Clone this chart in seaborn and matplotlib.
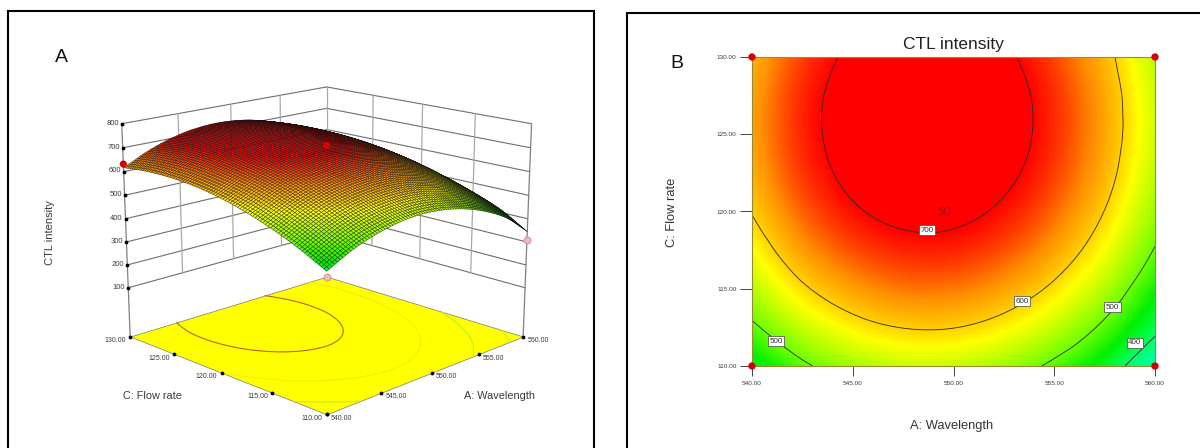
import numpy as np
import pandas as pd
import seaborn as sns
import matplotlib
matplotlib.use("Agg")
import matplotlib.pyplot as plt
import matplotlib.tri as mtri
from matplotlib.colors import LinearSegmentedColormap
from matplotlib.patches import Rectangle
from mpl_toolkits.mplot3d import proj3d
from mpl_toolkits.mplot3d.art3d import Poly3DCollection

# ---- data ----
wavelength = [540, 542.5, 545, 547.5, 550, 552.5, 555, 557.5, 560]
flow_rate = [110, 112.5, 115, 117.5, 120, 122.5, 125, 127.5, 130]
intensity = [
    [435, 491, 527, 546, 545, 526, 489, 433, 345],
    [491, 546, 583, 601, 601, 582, 545, 489, 414],
    [537, 593, 629, 648, 647, 628, 591, 535, 460],
    [574, 630, 666, 684, 684, 665, 628, 572, 497],
    [602, 657, 694, 712, 711, 692, 655, 599, 524],
    [620, 675, 712, 730, 729, 710, 673, 617, 542],
    [628, 683, 720, 738, 738, 719, 681, 625, 551],
    [627, 682, 719, 737, 737, 718, 680, 624, 550],
    [617, 672, 709, 727, 726, 708, 670, 614, 539],
]
a_ticks = [540, 545, 550, 555, 560]
c_ticks = [110, 115, 120, 125, 130]
z_ticks = [100, 200, 300, 400, 500, 600, 700, 800]
floor_z = -117
contour_levels = [400, 500, 600, 700]
floor_contour_colors = ["#c8f020", "#b8f030", "#eef000", "#b5651d"]
design_a = [540, 560, 540, 560]
design_c = [130, 130, 110, 110]
design_z = [632, 525, 415, 310]
design_col = ["#d40000", "#e00000", "#f4b8b8", "#f4b8b8"]
label_a = [541.2, 553.4, 557.9, 559.0, 548.7]
label_c = [111.6, 114.2, 113.8, 111.5, 118.8]
label_txt = ["500", "600", "500", "400", "700"]

W, H = 1200, 448
TXT = "#3a3a3a"
sns.set_theme(style="white")
plt.rcParams["font.family"] = ["Liberation Sans", "DejaVu Sans"]

# resample the read grid for display
A0, C0 = np.meshgrid(wavelength, flow_rate)
Z0 = np.array(intensity, dtype=float)
interp = mtri.CubicTriInterpolator(mtri.Triangulation(A0.ravel(), C0.ravel()), Z0.ravel(), kind="geom")


def fine(n):
    a = np.linspace(wavelength[0], wavelength[-1], n)
    c = np.linspace(flow_rate[0], flow_rate[-1], n)
    AA, CC = np.meshgrid(a, c)
    return a, c, AA, CC, np.ma.filled(interp(AA, CC), np.nan)


vmin, vmax = 340, 740
stops = [(340, "#00ffc0"), (410, "#00ff50"), (450, "#00f000"), (500, "#70ff00"), (546, "#c8ff00"),
         (575, "#ffff00"), (600, "#ffd000"), (638, "#ff9000"), (671, "#ff4000"), (700, "#ff0000"), (740, "#ff0000")]
cmap = LinearSegmentedColormap.from_list("rsm", [((v - vmin) / (vmax - vmin), c) for v, c in stops])
norm = plt.Normalize(vmin, vmax)

fig = plt.figure(figsize=(W / 100, H / 100), dpi=100)


def px(ax_l, ax_t, ax_r, ax_b):
    return [ax_l / W, 1 - ax_b / H, (ax_r - ax_l) / W, (ax_b - ax_t) / H]


# ---- panel A ----
side = 640
cx, cy = 318, 241
ax3 = fig.add_axes(px(cx - side / 2, cy - side / 2, cx + side / 2, cy + side / 2), projection="3d")
ax3.computed_zorder = False
ax3.set_axis_off()
ax3.patch.set_alpha(0)
ax3.set_proj_type("persp", focal_length=0.42)
ax3.view_init(elev=16, azim=-135)
ax3.set_xlim(540, 560)
ax3.set_ylim(110, 130)
ax3.set_zlim(floor_z, 800)
ax3.set_box_aspect((1, 1, 0.78), zoom=0.695)

a0, a1, c0, c1 = a_ticks[0], a_ticks[-1], c_ticks[0], c_ticks[-1]
floor = Poly3DCollection([[(a0, c0, floor_z), (a1, c0, floor_z), (a1, c1, floor_z), (a0, c1, floor_z)]],
                         facecolor="#ffff00", edgecolor="#777777", lw=0.5, zorder=1)
ax3.add_collection3d(floor)

wall = dict(color="#6e6e6e", lw=0.8, zorder=0)
for z in z_ticks:
    ax3.plot([a0, a1], [c1, c1], [z, z], **wall)
    ax3.plot([a1, a1], [c0, c1], [z, z], **wall)
for a in a_ticks[1:-1]:
    ax3.plot([a, a], [c1, c1], [z_ticks[0], z_ticks[-1]], color="#a8a8a8", lw=0.9, zorder=0)
for c in c_ticks[1:-1]:
    ax3.plot([a1, a1], [c, c], [z_ticks[0], z_ticks[-1]], color="#a8a8a8", lw=0.9, zorder=0)
ax3.plot([a1, a1], [c1, c1], [z_ticks[0], z_ticks[-1]], color="#a8a8a8", lw=0.9, zorder=0)
ax3.plot([a0, a0], [c1, c1], [floor_z, z_ticks[-1]], color="#808080", lw=0.9, zorder=0)
ax3.plot([a1, a1], [c0, c0], [floor_z, z_ticks[-1]], color="#808080", lw=0.9, zorder=0)

# floor contours
a, c, AA, CC, ZZ = fine(85)
ax3.contour(AA, CC, ZZ, levels=contour_levels, zdir="z", offset=floor_z,
            colors=floor_contour_colors, linewidths=0.8, zorder=2)

# axis ticks
ax3.scatter([a0] * len(z_ticks), [c1] * len(z_ticks), z_ticks, s=3, c="black", depthshade=False, zorder=3)
ax3.scatter(a_ticks, [c0] * 5, [floor_z] * 5, s=3, c="black", depthshade=False, zorder=3)
ax3.scatter([a0] * 5, c_ticks, [floor_z] * 5, s=3, c="black", depthshade=False, zorder=3)


def label3d(x, y, z, s, off, ha, size):
    xp, yp, _ = proj3d.proj_transform(x, y, z, ax3.get_proj())
    ax3.annotate(s, xy=(xp, yp), xycoords="data", xytext=off, textcoords="offset points",
                 fontsize=size, color=TXT, ha=ha, va="center", zorder=6)


for z in z_ticks:
    label3d(a0, c1, z, str(z), (-2, 0.5), "right", 5.5)
for t in a_ticks:
    label3d(t, c0, floor_z, f"{t:.2f}", (3, -3), "left", 5)
for t in c_ticks:
    label3d(a0, t, floor_z, f"{t:.2f}", (-3, -3), "right", 5)

# pink markers lie under the surface
for i in (2, 3):
    ax3.scatter(design_a[i], design_c[i], design_z[i], s=26, c=design_col[i], edgecolors="#c08080",
                linewidths=0.5, depthshade=False, zorder=3)

# surface
ax3.plot_surface(AA, CC, ZZ, facecolors=cmap(norm(ZZ)), rstride=1, cstride=1, shade=False,
                 edgecolor="#151010", linewidth=0.26, antialiased=True, zorder=4)

for i in (0, 1):
    ax3.scatter(design_a[i], design_c[i], design_z[i], s=26, c=design_col[i], edgecolors="none",
                depthshade=False, zorder=5)

# ---- panel B ----
axb = fig.add_axes(px(752, 57, 1155, 366))
n = 200
a, c, AA, CC, ZZ = fine(n)
df = pd.DataFrame(ZZ[::-1], index=c[::-1], columns=a)
sns.heatmap(df, ax=axb, cmap=cmap, norm=norm, cbar=False, xticklabels=False, yticklabels=False, rasterized=True)


def a2x(v):
    return (np.asarray(v, dtype=float) - wavelength[0]) / (wavelength[-1] - wavelength[0]) * n


def c2y(v):
    return (flow_rate[-1] - np.asarray(v, dtype=float)) / (flow_rate[-1] - flow_rate[0]) * n


axb.contour(a2x(AA), c2y(CC), ZZ, levels=contour_levels, colors="#2a2a2a", linewidths=0.6)
for s in axb.spines.values():
    s.set_visible(True)
    s.set_color("#9a8a30")
    s.set_linewidth(0.8)

axb.set_xticks(a2x(a_ticks))
axb.set_xticklabels([f"{t:.2f}" for t in a_ticks], rotation=0, fontsize=4.6, color=TXT)
axb.set_yticks(c2y(c_ticks))
axb.set_yticklabels([f"{t:.2f}" for t in c_ticks], rotation=0, fontsize=4.6, color=TXT)
axb.tick_params(axis="x", length=7, width=0.7, color="#444444", pad=4, bottom=True)
axb.tick_params(axis="y", length=9, width=0.7, color="#444444", pad=2, left=True)
axb.set_xlabel("")
axb.set_ylabel("")

for la, lc, lt in zip(label_a, label_c, label_txt):
    axb.text(a2x(la), c2y(lc), lt, fontsize=5.8, color="#333333", ha="center", va="center",
             bbox=dict(boxstyle="square,pad=0.2", fc="white", ec="#444444", lw=0.5))
axb.text(a2x(549.6), c2y(120), "5O", fontsize=7, color="#a01010", ha="center", va="center")
axb.scatter(a2x(design_a), c2y(design_c), s=28, c="#d40000", edgecolors="none", clip_on=False, zorder=6)


# ---- figure-level text and frames ----
def ftext(x, y, s, **kw):
    fig.text(x / W, 1 - y / H, s, ha="center", va="center", **kw)


for x0, y0, x1 in [(8, 11, 594), (627, 13, 1215)]:
    fig.add_artist(Rectangle((x0 / W, 1 - (H + 10) / H), (x1 - x0) / W, (H + 10 - y0) / H,
                             transform=fig.transFigure, fill=False, ec="black", lw=1.5))

ftext(61, 58, "A", fontsize=14, color="#111111")
ftext(677, 64, "B", fontsize=14, color="#111111")
ftext(953, 44, "CTL intensity", fontsize=12.5, color="#222222")
ftext(952, 426, "A: Wavelength", fontsize=9.3, color="#333333")
ftext(672, 212, "C: Flow rate", fontsize=9.3, color="#333333", rotation=90)
ftext(50, 233, "CTL intensity", fontsize=8, color=TXT, rotation=90)
ftext(152, 396, "C: Flow rate", fontsize=7.8, color=TXT)
ftext(499, 396, "A: Wavelength", fontsize=7.8, color=TXT)

fig.savefig("out.png", dpi=100)
